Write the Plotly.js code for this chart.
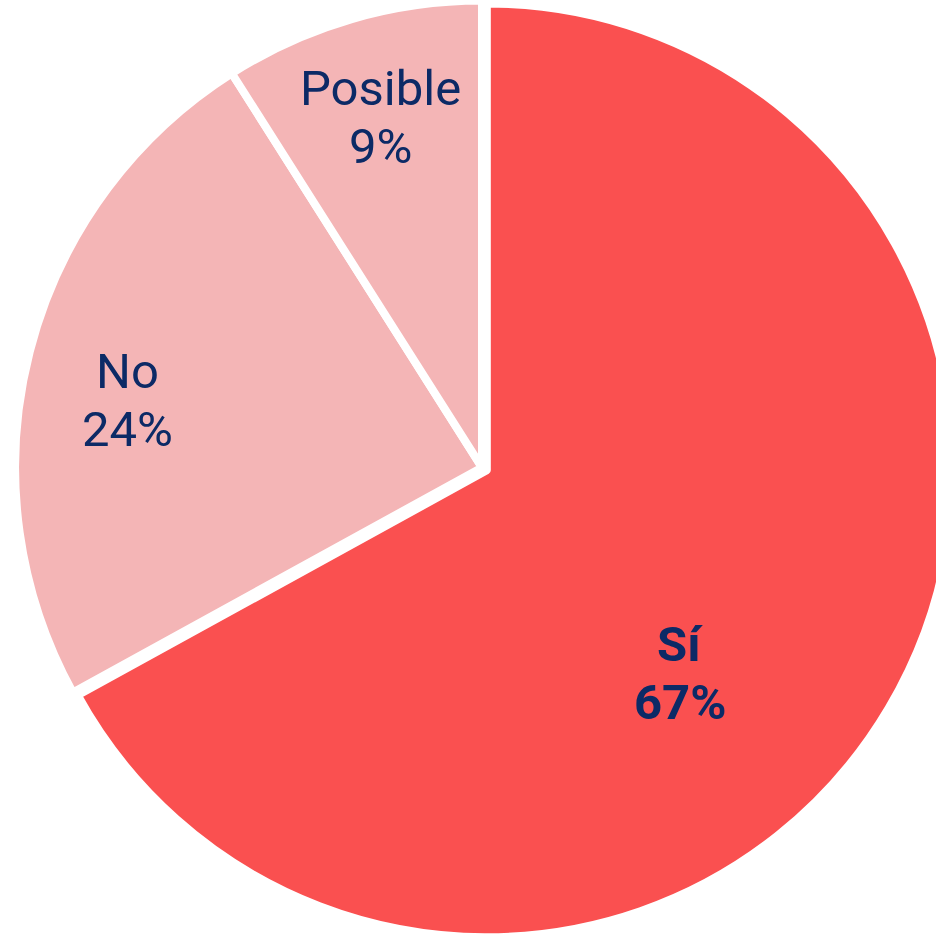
<!DOCTYPE html>
<html>
<head>
<meta charset="utf-8">
<script src="https://cdn.plot.ly/plotly-3.0.1.min.js"></script>
<style>
html,body{margin:0;padding:0;overflow:hidden;background:#fff;width:936px;height:937px;}
#chart{position:absolute;left:0px;top:-5px;width:964px;height:945px;}
</style>
</head>
<body>
<div id="chart"></div>
<script>
const labels = ["Sí", "No", "Posible"];
const values = [67, 24, 9];
const sliceColors = ["#FA5050", "#F4B5B6", "#F4B5B6"];
const pulls = [0.012, 0, 0];

// label placement (layout only): radius in px from pie centre, angle offset from slice middle (deg), bold
const labelRadius = [286, 361, 364];
const labelAngleOffset = [15.6, -3.7, 0];
const labelBold = [true, false, false];

const W = 964, H = 945;
const cx = W / 2, cy = H / 2;
const total = values.reduce((a, b) => a + b, 0);
const FS = 49;
const textColor = "#0C2A66";
const annotations = [];
let cum = 0;
values.forEach((v, i) => {
  const mid = (cum + v / 2) / total * 360 + labelAngleOffset[i];
  cum += v;
  const rad = mid * Math.PI / 180;
  const px = cx + labelRadius[i] * Math.sin(rad);
  const py = cy - labelRadius[i] * Math.cos(rad);
  const pct = Math.round(v / total * 100) + "%";
  const lines = [labels[i], pct];
  lines.forEach((t, j) => {
    annotations.push({
      xref: "paper", yref: "paper",
      x: px / W, y: 1 - py / H,
      xanchor: "center", yanchor: "middle",
      yshift: j === 0 ? 29 : -29,
      showarrow: false,
      text: labelBold[i] ? "<b>" + t + "</b>" : t,
      font: { family: "Roboto, Arial, sans-serif", size: FS, color: textColor }
    });
  });
});

const trace = {
  type: "pie",
  labels: labels,
  values: values,
  sort: false,
  direction: "clockwise",
  rotation: 0,
  pull: pulls,
  marker: { colors: sliceColors, line: { color: "#ffffff", width: 8 } },
  textinfo: "none",
  hoverinfo: "none",
  showlegend: false
};

Plotly.newPlot("chart", [trace], {
  width: W,
  height: H,
  margin: { l: 0, r: 0, t: 0, b: 0, pad: 0 },
  paper_bgcolor: "#ffffff",
  showlegend: false,
  annotations: annotations
}, { displayModeBar: false, staticPlot: true });
</script>
</body>
</html>
